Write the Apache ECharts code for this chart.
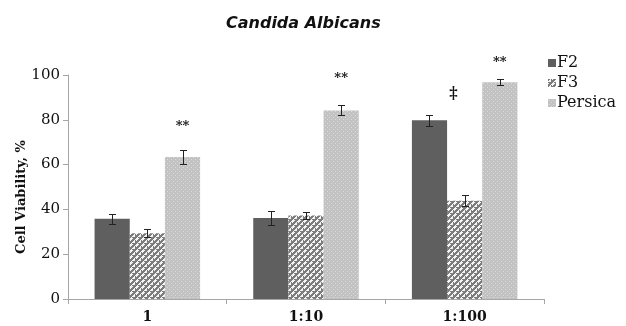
<!DOCTYPE html>
<html>
<head>
<meta charset="utf-8">
<script src="https://cdn.jsdelivr.net/npm/echarts@6/dist/echarts.min.js"></script>
<style>html,body{margin:0;padding:0;background:#fff}#c{width:626px;height:326px}</style>
</head>
<body>
<div id="c"></div>
<script>
var categories = ['1', '1:10', '1:100'];
var seriesNames = ['F2', 'F3', 'Persica'];
var f2Values = [35.8, 36.2, 79.8];
var f3Values = [29.4, 37.3, 43.9];
var persicaValues = [63.4, 84.2, 96.8];
var f2Errors = [2.1, 3.0, 2.4];
var f3Errors = [1.8, 1.4, 2.4];
var persicaErrors = [3.2, 2.2, 1.3];
var yTicks = [0, 20, 40, 60, 80, 100];
// annotations: [categoryIndex, barIndex, yValue, text]
var annotations = [
  [0, 2, 77, '**'],
  [1, 2, 98.5, '**'],
  [2, 2, 105.5, '**'],
  [2, 0.68, 91.5, '\u2021']
];

var GAP = 0.335;
function makePattern(w, h, bg, fg, pts) {
  var c = document.createElement('canvas');
  c.width = w; c.height = h;
  var ctx = c.getContext('2d');
  ctx.fillStyle = bg; ctx.fillRect(0, 0, w, h);
  ctx.fillStyle = fg;
  pts.forEach(function (p) { ctx.fillRect(p[0], p[1], p[2] || 1, p[3] || 1); });
  return { image: c, repeat: 'repeat' };
}
var f3Pattern = makePattern(6, 6, '#7c7c7c', '#f4f4f4', [[1, 1, 2, 2], [4, 4, 2, 2], [4, 0, 1, 1], [0, 4, 1, 1], [2, 0, 1, 1], [0, 2, 1, 1], [3, 5, 1, 1], [5, 3, 1, 1]]);
var persicaPattern = makePattern(4, 4, '#c2c2c2', '#dcdcdc', [[1, 1], [3, 3]]);
var colors = ['#5f5f5f', f3Pattern, persicaPattern];

var values = [f2Values, f3Values, persicaValues];
var errors = [f2Errors, f3Errors, persicaErrors];
var errData = [];
for (var k = 0; k < 3; k++) {
  for (var i = 0; i < categories.length; i++) {
    errData.push([i, values[k][i], errors[k][i], k]);
  }
}

var FONT = 'DejaVu Serif';
var chart = echarts.init(document.getElementById('c'), null, { renderer: 'canvas' });

var series = seriesNames.map(function (n, k) {
  return {
    name: n, type: 'bar', data: values[k], barGap: '0%', barCategoryGap: (GAP * 100) + '%',
    itemStyle: { color: colors[k] }, z: 2
  };
});
series.push({
  type: 'custom', name: 'err', z: 5, silent: true,
  data: errData,
  encode: { x: 0, y: 1 },
  renderItem: function (params, api) {
    var cat = api.value(0), v = api.value(1), e = api.value(2), k = api.value(3);
    var band = api.size([1, 0])[0];
    var bw = band * (1 - GAP) / 3;
    var cx = Math.round(api.coord([cat, v])[0] + (k - 1) * bw) + 0.5;
    var top = Math.round(api.coord([cat, v + e])[1]) + 0.5;
    var bot = Math.round(api.coord([cat, v - e])[1]) + 0.5;
    var cap = 3.5;
    var st = { stroke: '#222', lineWidth: 1 };
    return {
      type: 'group', children: [
        { type: 'line', shape: { x1: cx, y1: top, x2: cx, y2: bot }, style: st },
        { type: 'line', shape: { x1: cx - cap, y1: top, x2: cx + cap, y2: top }, style: st },
        { type: 'line', shape: { x1: cx - cap, y1: bot, x2: cx + cap, y2: bot }, style: st }
      ]
    };
  }
});
series.push({
  type: 'custom', name: 'ann', z: 6, silent: true, clip: false,
  data: annotations,
  encode: { x: 0, y: 2 },
  renderItem: function (params, api) {
    var a = annotations[params.dataIndex];
    var band = api.size([1, 0])[0];
    var bw = band * (1 - GAP) / 3;
    var p = api.coord([a[0], a[2]]);
    return {
      type: 'text',
      style: {
        x: p[0] + (a[1] - 1) * bw, y: p[1], text: a[3],
        align: 'center', verticalAlign: 'middle',
        font: (a[3] === '**' ? 'bold 13px ' : 'bold 16px ') + '"' + FONT + '"', fill: '#111'
      }
    };
  }
});

chart.setOption({
  animation: false,
  backgroundColor: '#fff',
  title: {
    text: 'Candida Albicans', left: 221, top: 11,
    textStyle: { fontFamily: 'DejaVu Sans', fontStyle: 'italic', fontWeight: 'bold', fontSize: 16, color: '#111' }
  },
  legend: {
    data: seriesNames, orient: 'vertical', left: 543, top: 50,
    itemWidth: 8, itemHeight: 8, itemGap: 4, icon: 'rect',
    textStyle: { fontFamily: FONT, fontSize: 16, color: '#111', padding: [0, 0, 0, -4] }
  },
  grid: { left: 68, right: 82, top: 75, bottom: 27, containLabel: false },
  xAxis: {
    type: 'category', data: categories,
    axisLine: { lineStyle: { color: '#a6a6a6' } },
    axisTick: { show: true, alignWithLabel: false, length: 5, lineStyle: { color: '#a6a6a6' } },
    axisLabel: { fontFamily: FONT, fontWeight: 'bold', fontSize: 14, color: '#111', margin: 11 }
  },
  yAxis: {
    type: 'value', min: 0, max: 100, interval: 20,
    name: 'Cell Viability, %', nameLocation: 'middle', nameGap: 40, nameRotate: 90,
    nameMoveOverlap: false,
    nameTextStyle: { fontFamily: FONT, fontWeight: 'bold', fontSize: 13, color: '#111', padding: [0, 0, 0, -20] },
    axisLine: { show: true, lineStyle: { color: '#a6a6a6' } },
    axisTick: { show: true, length: 5, lineStyle: { color: '#a6a6a6' } },
    splitLine: { show: false },
    axisLabel: {
      fontFamily: FONT, fontSize: 15, color: '#111', margin: 8,
      formatter: function (v) { return yTicks.indexOf(v) >= 0 ? String(v) : ''; }
    }
  },
  series: series
});
</script>
</body>
</html>
